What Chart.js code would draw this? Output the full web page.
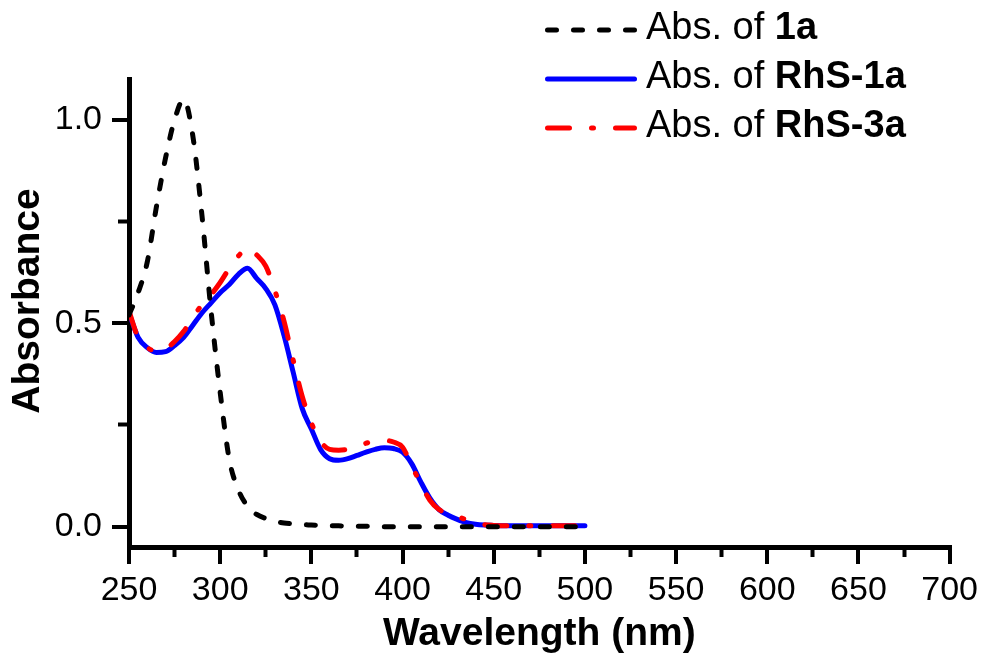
<!DOCTYPE html>
<html>
<head>
<meta charset="utf-8">
<title>Absorbance</title>
<script src="https://cdn.jsdelivr.net/npm/chart.js@4.4.1/dist/chart.umd.min.js"></script>
<style>
  html,body{margin:0;padding:0;background:#fff;}
  canvas{display:block;}
</style>
</head>
<body>
<canvas id="chart-abs" width="984" height="654"></canvas>
<script>
// ====== Данные: длина волны (нм) и оптическая плотность ======
const wavelengths = [250,255,260,265,270,275,280,285,290,295,300,305,310,315,320,325,330,335,340,345,
  350,355,360,365,370,375,380,385,390,395,400,405,410,415,420,425,430,435,440,445,
  450,455,460,465,470,475,480,485,490,495,500];

const abs1a = [0.52,0.575,0.65,0.785,0.905,1.00,1.05,0.96,0.765,0.53,0.33,0.165,0.09,0.05,0.03,0.02,0.013,0.009,0.007,0.005,
  0.004,0.003,0.002,0.002,0.001,0.001,0.001,0,0,0,0,0,0,0,0,0,0,0,0,0,
  0,0,0,0,0,0,0,0,0,0,0];

const absRhS1a = [0.525,0.465,0.44,0.428,0.43,0.445,0.465,0.495,0.525,0.55,0.575,0.595,0.62,0.635,0.61,0.585,0.545,0.47,0.38,0.29,
  0.24,0.19,0.167,0.163,0.167,0.175,0.183,0.19,0.194,0.192,0.183,0.155,0.11,0.07,0.042,0.028,0.018,0.01,0.006,0.004,
  0.003,0.002,0.002,0.002,0.002,0.002,0.002,0.002,0.002,0.002,0.002];

const absRhS3a = [0.53,0.465,0.44,0.432,0.437,0.455,0.48,0.515,0.545,0.57,0.60,0.635,0.665,0.685,0.668,0.64,0.58,0.505,0.41,0.32,
  0.255,0.21,0.19,0.188,0.19,0.197,0.205,0.21,0.212,0.208,0.195,0.15,0.105,0.065,0.042,0.032,0.025,0.017,0.01,0.005,
  0.003,0.002,0.002,0.002,0.002,0.002,0.002,0.002,0.002,0.002,0.002];

const seriesNames = ['1a', 'RhS-1a', 'RhS-3a'];
const legendPrefix = 'Abs. of ';

// ====== Деления осей ======
const xMajorTicks = [250,300,350,400,450,500,550,600,650,700];
const xMinorTicks = [275,325,375,425,475,525,575,625,675];
const yMajorTicks = [0, 0.5, 1.0];
const yMinorTicks = [0.25, 0.75];

const xTitle = 'Wavelength (nm)';
const yTitle = 'Absorbance';

const FONT = '"Liberation Sans", Arial, Helvetica, sans-serif';

// стиль линий: чёрный пунктир, синяя сплошная, красный штрихпунктир
const styles = [
  { color:'#000000', dash:[9,17],          order:1 },
  { color:'#0000ff', dash:[],              order:3 },
  { color:'#ff0000', dash:[22,22,2,22],    order:2 },
];
const seriesValues = [abs1a, absRhS1a, absRhS3a];

function toPoints(ys){
  return wavelengths.map((x, i) => ({ x, y: ys[i] }));
}
function fixTicks(list){
  return s => { s.ticks = list.map(v => ({ value: v })); };
}

// ====== Легенда и подпись оси Y ======
const decorPlugin = {
  id: 'decor',
  afterDraw(chart){
    const ctx = chart.ctx;

    ctx.save();
    ctx.translate(28, 301);
    ctx.rotate(-Math.PI / 2);
    ctx.font = `bold 39px ${FONT}`;
    ctx.fillStyle = '#000';
    ctx.textAlign = 'center';
    ctx.textBaseline = 'middle';
    ctx.fillText(yTitle, 0, 0);
    ctx.restore();

    const x0 = 547.5, x1 = 634.5, tx = 646, top = 30, step = 49;
    chart.data.datasets.forEach((ds, i) => {
      const y = top + i * step;
      ctx.save();
      ctx.strokeStyle = ds.borderColor;
      ctx.lineWidth = ds.borderWidth;
      ctx.lineCap = 'round';
      ctx.setLineDash(ds.borderDash || []);
      ctx.beginPath(); ctx.moveTo(x0, y); ctx.lineTo(x1, y); ctx.stroke();
      ctx.setLineDash([]);
      ctx.fillStyle = '#000';
      ctx.textAlign = 'left';
      ctx.textBaseline = 'middle';
      ctx.font = `38px ${FONT}`;
      ctx.fillText(legendPrefix, tx, y - 1);
      const w = ctx.measureText(legendPrefix).width;
      ctx.font = `bold 38px ${FONT}`;
      ctx.fillText(ds.label, tx + w, y - 1);
      ctx.restore();
    });
  }
};

const tickFont = { family: FONT, size: 34 };

new Chart(document.getElementById('chart-abs').getContext('2d'), {
  type: 'line',
  data: {
    datasets: seriesNames.map((name, i) => ({
      label: name,
      data: toPoints(seriesValues[i]),
      borderColor: styles[i].color,
      borderWidth: 5,
      borderDash: styles[i].dash,
      borderCapStyle: 'round',
      borderJoinStyle: 'round',
      pointRadius: 0,
      cubicInterpolationMode: 'monotone',
      fill: false,
      order: styles[i].order,
      xAxisID: 'x',
      yAxisID: 'y'
    }))
  },
  options: {
    responsive: false,
    animation: false,
    layout: { padding: { top: 79, right: 33, left: 0, bottom: 0 } },
    plugins: { legend: { display: false }, tooltip: { enabled: false } },
    scales: {
      x: {
        type: 'linear', position: 'bottom', min: 250, max: 700, weight: 1,
        afterBuildTicks: fixTicks(xMajorTicks),
        afterFit: s => { s.height = 107; },
        border: { display: true, width: 5, color: '#000' },
        grid: { drawOnChartArea: false, drawTicks: true, tickLength: 17, tickWidth: 4, tickColor: '#000', color: '#000', lineWidth: 4 },
        ticks: { autoSkip: false, maxRotation: 0, padding: 6, color: '#000', font: tickFont, callback: v => String(v) },
        title: { display: true, text: xTitle, color: '#000', padding: 0,
                 font: { family: FONT, size: 39, weight: 'bold', lineHeight: 1 } }
      },
      xMinor: {
        type: 'linear', position: 'bottom', min: 250, max: 700, weight: 0,
        afterBuildTicks: fixTicks(xMinorTicks),
        afterFit: s => { s.height = 0; },
        border: { display: false },
        grid: { drawOnChartArea: false, drawTicks: true, tickLength: 10, tickWidth: 4, tickColor: '#000' },
        ticks: { display: false }
      },
      y: {
        type: 'linear', position: 'left', min: -0.05, max: 1.1, weight: 1,
        afterBuildTicks: fixTicks(yMajorTicks),
        afterFit: s => { s.width = 129; },
        border: { display: true, width: 5, color: '#000' },
        grid: { drawOnChartArea: false, drawTicks: true, tickLength: 17, tickWidth: 4, tickColor: '#000', color: '#000', lineWidth: 4 },
        ticks: { padding: 10, color: '#000', font: tickFont, callback: v => Number(v).toFixed(1) },
        title: { display: false }
      },
      yMinor: {
        type: 'linear', position: 'left', min: -0.05, max: 1.1, weight: 0,
        afterBuildTicks: fixTicks(yMinorTicks),
        afterFit: s => { s.width = 0; },
        border: { display: false },
        grid: { drawOnChartArea: false, drawTicks: true, tickLength: 11, tickWidth: 4, tickColor: '#000' },
        ticks: { display: false }
      }
    }
  },
  plugins: [decorPlugin]
});
</script>
</body>
</html>
